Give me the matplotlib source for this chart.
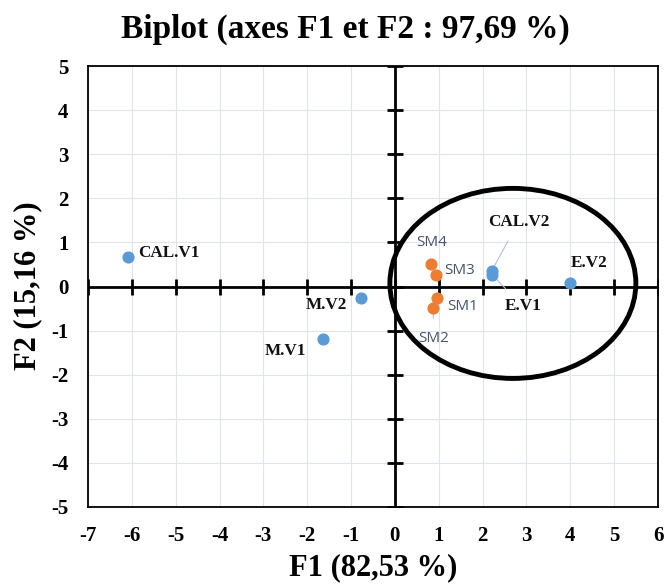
import numpy as np
import matplotlib.pyplot as plt
from matplotlib.patches import Ellipse

plt.rcParams['axes.unicode_minus'] = False

# Coordinates of the observations on the first two factorial axes
obs_names = ['CAL.V1', 'M.V2', 'M.V1', 'CAL.V2', 'E.V1', 'E.V2']
obs_f1 = [-6.09, -0.78, -1.64, 2.21, 2.21, 3.99]
obs_f2 = [0.68, -0.27, -1.20, 0.36, 0.27, 0.09]

# Supplementary samples
sm_names = ['SM1', 'SM2', 'SM3', 'SM4']
sm_f1 = [0.96, 0.87, 0.93, 0.82]
sm_f2 = [-0.27, -0.48, 0.25, 0.50]

xticks = list(range(-7, 7))
yticks = list(range(-5, 6))

# label positions (text anchor, alignment, leader line or not)
obs_lab = {
    'CAL.V1': ((-5.86, 0.75), 'left', False),
    'M.V2': ((-1.09, -0.41), 'right', False),
    'M.V1': ((-2.02, -1.47), 'right', True),
    'CAL.V2': ((2.82, 1.47), 'center', True),
    'E.V1': ((2.92, -0.45), 'center', True),
    'E.V2': ((4.43, 0.54), 'center', False),
}
sm_lab = {
    'SM1': ((1.19, -0.45), 'left', False),
    'SM2': ((0.89, -1.18), 'center', True),
    'SM3': ((1.12, 0.36), 'left', False),
    'SM4': ((0.84, 1.00), 'center', True),
}

serif = ['Liberation Serif', 'DejaVu Serif']
blue = '#5B9BD5'
orange = '#ED7D31'

fig = plt.figure(figsize=(6.67, 5.84), dpi=100)
ax = fig.add_axes([88/667, 1 - 507/584, 570/667, 441/584])

ax.set_xlim(-7, 6)
ax.set_ylim(-5, 5)
ax.set_xticks(xticks)
ax.set_yticks(yticks)
ax.grid(True, color='#dfe3ea', lw=0.8)
ax.set_axisbelow(True)
for s in ax.spines.values():
    s.set_linewidth(1.3)
    s.set_color('black')
ax.tick_params(axis='x', length=0, pad=14)
ax.tick_params(axis='y', length=0, pad=14)
for t in ax.get_xticklabels() + ax.get_yticklabels():
    t.set_family(serif)
    t.set_fontweight('bold')
    t.set_fontsize(15)

# central axes with cross ticks
ax.axhline(0, color='black', lw=2)
ax.axvline(0, color='black', lw=2)
ax.plot(xticks, [0] * len(xticks), ls='none', marker='|', ms=12, mew=2, color='black')
ax.plot([0] * len(yticks), yticks, ls='none', marker='_', ms=12, mew=2, color='black')

ax.add_patch(Ellipse((2.69, 0.07), 5.61, 4.31, fill=False, lw=3.5, color='black'))

ax.scatter(obs_f1, obs_f2, s=60, color=blue, zorder=5)
ax.scatter(sm_f1, sm_f2, s=60, color=orange, zorder=5)

for n, x, y in zip(obs_names, obs_f1, obs_f2):
    pos, ha, leader = obs_lab[n]
    ax.annotate(n, (x, y), xytext=pos, ha=ha, va='center', family=serif,
                fontweight='bold', fontsize=12.3, color='#111111',
                arrowprops=dict(arrowstyle='-', color='#b4c0d0', lw=0.8,
                                shrinkA=7, shrinkB=3) if leader else None)

for n, x, y in zip(sm_names, sm_f1, sm_f2):
    pos, ha, leader = sm_lab[n]
    ax.annotate(n, (x, y), xytext=pos, ha=ha, va='center',
                family=['Open Sans', 'DejaVu Sans'], fontsize=11, color='#44546A',
                arrowprops=dict(arrowstyle='-', color='#b4c0d0', lw=0.8,
                                shrinkA=7, shrinkB=3) if leader else None)

fig.text(373/667, 1 - 568/584, 'F1 (82,53 %)', ha='center', va='center',
         family=serif, fontweight='bold', fontsize=22)
fig.text(28/667, 1 - 286/584, 'F2 (15,16 %)', ha='center', va='center', rotation=90,
         family=serif, fontweight='bold', fontsize=22)
fig.text(345/667, 1 - 29/584, 'Biplot (axes F1 et F2 : 97,69 %)', ha='center', va='center',
         family=serif, fontweight='bold', fontsize=24)

fig.savefig('out.png', dpi=100)
